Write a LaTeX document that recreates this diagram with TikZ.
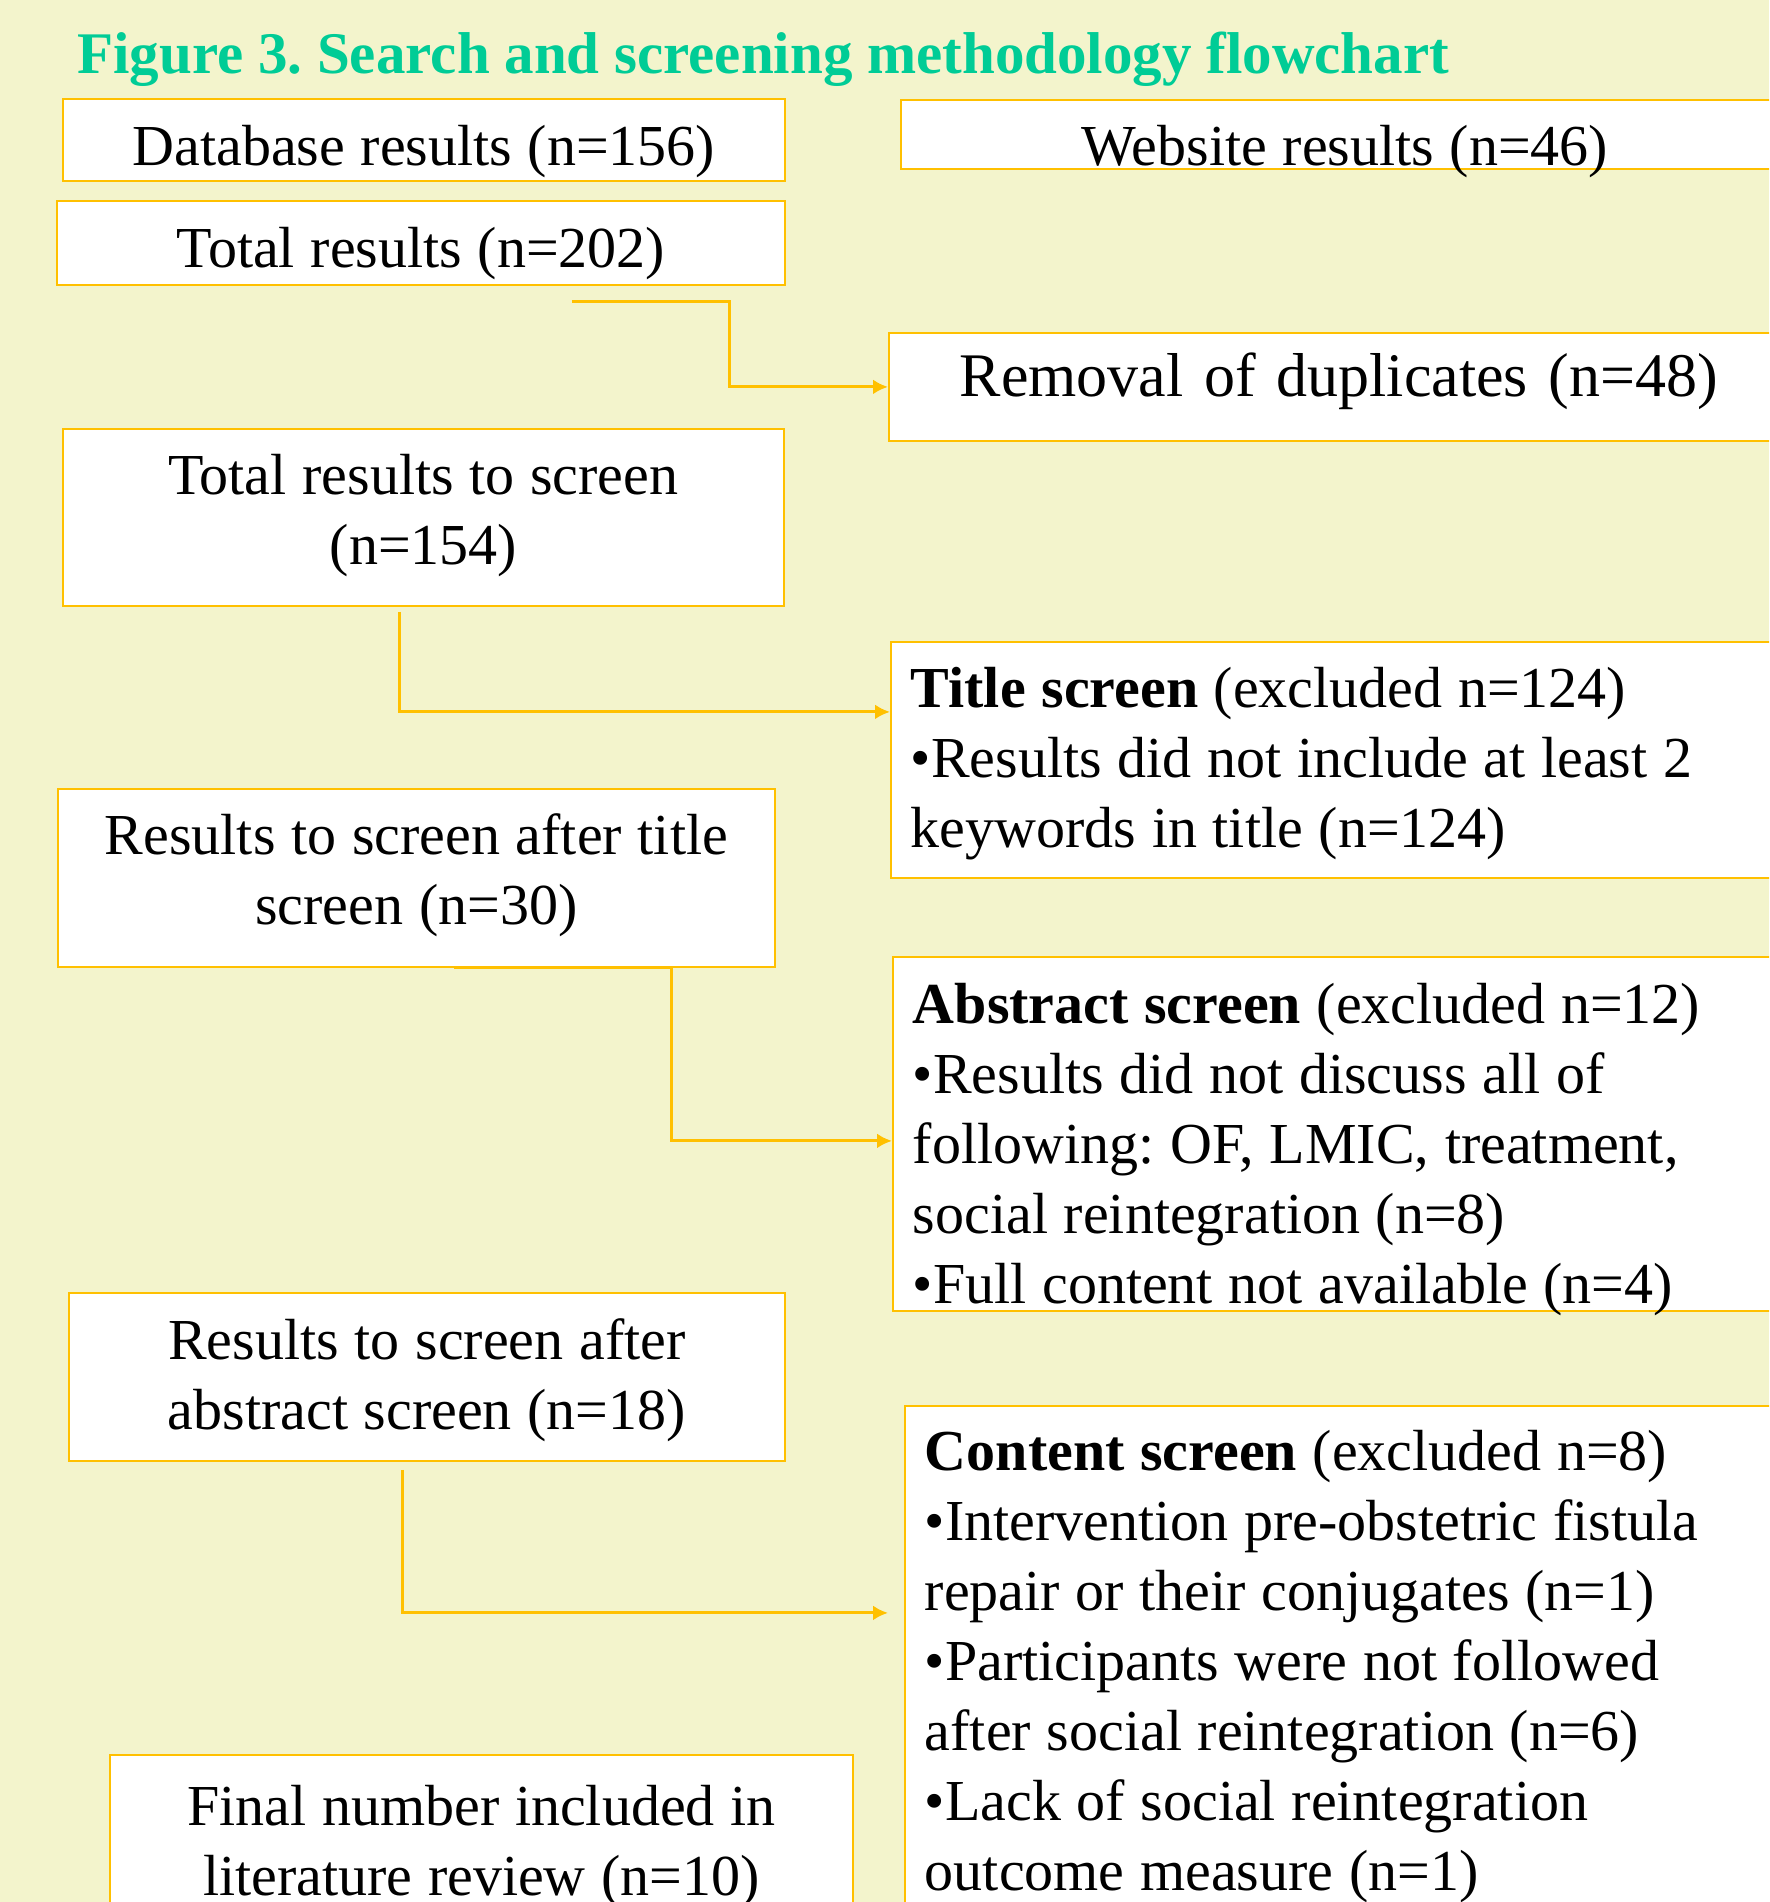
\documentclass[tikz,border=0pt]{standalone}
\usepackage{fontspec}
\setmainfont{Liberation Serif}
\frenchspacing
\usetikzlibrary{arrows.meta}
\definecolor{gold}{RGB}{255,192,0}
\definecolor{titlegreen}{RGB}{0,204,150}
\definecolor{paper}{RGB}{243,244,204}
\newcommand\boxfont{\fontsize{29}{35}\selectfont\spaceskip 0.27em\relax}
\newcommand\bigboxfont{\fontsize{31}{35}\selectfont\spaceskip 0.3333em\relax}
\tikzset{
  box/.style={draw=gold, line width=0.9pt, fill=white, anchor=north west,
    inner xsep=0pt, inner ysep=0pt, align=flush center, font=\boxfont},
  note/.style={box, align=flush left, inner xsep=10pt},
  link/.style={draw=gold, line width=1.5pt, -{Latex[length=7.5pt,width=7.5pt]}}
}
\begin{document}
\begin{tikzpicture}[x=0.5pt,y=-0.5pt]
		\useasboundingbox (0,0) rectangle (1769,1902);
		\clip (0,0) rectangle (1769,1902);
		\fill[paper] (0,0) rectangle (1769,1902);

		\node[anchor=base west, inner sep=0pt, text=titlegreen, font=\fontsize{29.5}{35}\selectfont\bfseries] (title) at (77,73) {Figure 3. Search and screening methodology flowchart};

		% left column
		\node[box, text width=361pt, text height=33.5pt, text depth=7.5pt] (db) at (62,98) {Database results (n=156)};
		\node[box, text width=364pt, text height=33.5pt, text depth=8.5pt] (tot) at (56,200) {Total results (n=202)};
		\node[box, text width=360.5pt, text height=33pt, text depth=55.5pt] (scr) at (62,428) {Total results to screen\\(n=154)};
		\node[box, text width=358.5pt, text height=33pt, text depth=56pt] (aft) at (57,788) {Results to screen after title\\screen (n=30)};
		\node[box, text width=358pt, text height=33.5pt, text depth=50.5pt] (abr) at (68,1292) {Results to screen after\\abstract screen (n=18)};
		\node[box, text width=371.5pt, text height=35.5pt, text depth=62.5pt] (fin) at (109,1754) {Final number included in\\literature review (n=10)};

		% right column
		\node[box, text width=444pt, text height=33pt, text depth=1.5pt] (web) at (900,99) {Website results (n=46)};
		\node[box, text width=450pt, text height=32pt, text depth=22pt, font=\bigboxfont] (dup) at (888,332) {Removal of duplicates (n=48)};
		\node[note, text width=435pt, text height=33pt, text depth=85pt] (ttl) at (890,641) {\textbf{Title screen} (excluded n=124)\\•Results did not include at least 2\\keywords in title (n=124)};
		\node[note, text width=435pt, text height=33.5pt, text depth=143.5pt] (abs) at (892,956) {\textbf{Abstract screen} (excluded n=12)\\•Results did not discuss all of\\following: OF, LMIC, treatment,\\social reintegration (n=8)\\•Full content not available (n=4)};
		\node[note, text width=430pt, text height=32.5pt, text depth=240pt] (cnt) at (904,1405) {\textbf{Content screen} (excluded n=8)\\•Intervention pre-obstetric fistula\\repair or their conjugates (n=1)\\•Participants were not followed\\after social reintegration (n=6)\\•Lack of social reintegration\\outcome measure (n=1)};

		% connectors
		\draw[link] ([xshift=75.5pt,yshift=-8pt]tot.south) -- ++(158,0) |- (dup.west);
		\draw[link] ([xshift=-11.75pt,yshift=-2.5pt]scr.south) |- ([yshift=24pt]ttl.west);
		\draw[link] ([xshift=18.75pt]aft.south) -- ([xshift=127.75pt]aft.south) |- ([yshift=-3.5pt]abs.west);
		\draw[link, shorten >=8pt] ([xshift=-12pt,yshift=-4pt]abr.south) |- ([yshift=32.75pt]cnt.west);
\end{tikzpicture}
\end{document}
